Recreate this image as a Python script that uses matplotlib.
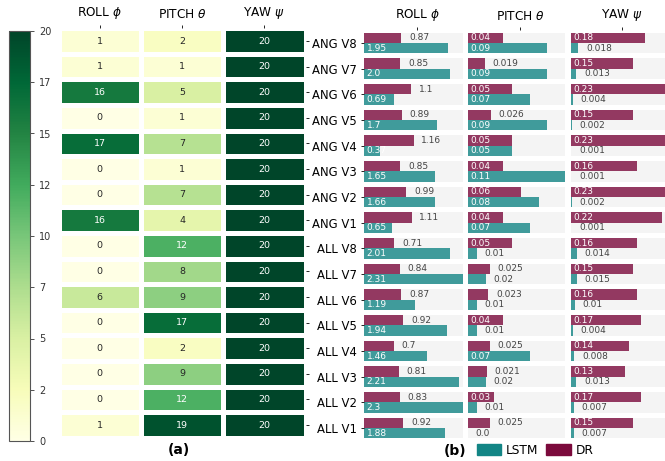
import matplotlib

matplotlib.use("Agg")
import matplotlib.pyplot as plt
import numpy as np
from matplotlib.patches import Patch

# rows, top to bottom
ROWS = ["ANG V8", "ANG V7", "ANG V6", "ANG V5", "ANG V4", "ANG V3", "ANG V2", "ANG V1",
        "ALL V8", "ALL V7", "ALL V6", "ALL V5", "ALL V4", "ALL V3", "ALL V2", "ALL V1"]
ANGLES = [r"ROLL $\phi$", r"PITCH $\theta$", r"YAW $\psi$"]

# (a) counts
ROLL_COUNT = [1, 1, 16, 0, 17, 0, 0, 16, 0, 0, 6, 0, 0, 0, 0, 1]
PITCH_COUNT = [2, 1, 5, 1, 7, 1, 7, 4, 12, 8, 9, 17, 2, 9, 12, 19]
YAW_COUNT = [20, 20, 20, 20, 20, 20, 20, 20, 20, 20, 20, 20, 20, 20, 20, 20]

# (b) errors
ROLL_DR = [0.87, 0.85, 1.1, 0.89, 1.16, 0.85, 0.99, 1.11, 0.71, 0.84, 0.87, 0.92, 0.7, 0.81, 0.83, 0.92]
ROLL_LSTM = [1.95, 2.0, 0.69, 1.7, 0.37, 1.65, 1.66, 0.65, 2.01, 2.31, 1.19, 1.94, 1.46, 2.21, 2.3, 1.88]
PITCH_DR = [0.04, 0.019, 0.05, 0.026, 0.05, 0.04, 0.06, 0.04, 0.05, 0.025, 0.023, 0.04, 0.025, 0.021, 0.03, 0.025]
PITCH_LSTM = [0.09, 0.09, 0.07, 0.09, 0.05, 0.11, 0.08, 0.07, 0.01, 0.02, 0.01, 0.01, 0.07, 0.02, 0.01, 0.0]
YAW_DR = [0.18, 0.15, 0.23, 0.15, 0.23, 0.16, 0.23, 0.22, 0.16, 0.15, 0.16, 0.17, 0.14, 0.13, 0.17, 0.15]
YAW_LSTM = [0.018, 0.013, 0.004, 0.002, 0.001, 0.001, 0.002, 0.001, 0.014, 0.015, 0.01, 0.004, 0.008, 0.013, 0.007, 0.007]

LSTM_C = "#138585"
DR_C = "#7b0a3c"
BAND = "#f4f4f4"
W, H = 665, 461


def box(x0, y0, x1, y1):
    # pixel box (y from top) -> figure fraction
    return [x0 / W, 1 - y1 / H, (x1 - x0) / W, (y1 - y0) / H]


def lum(rgb):
    c = np.array(rgb[:3])
    c = np.where(c <= 0.03928, c / 12.92, ((c + 0.055) / 1.055) ** 2.4)
    return 0.2126 * c[0] + 0.7152 * c[1] + 0.0722 * c[2]


fig = plt.figure(figsize=(W / 100, H / 100), dpi=100)

# ---- (a) heatmap
ax = fig.add_axes(box(58.5, 28.3, 305.5, 437.8))
counts = np.array([ROLL_COUNT, PITCH_COUNT, YAW_COUNT]).T
cmap = plt.get_cmap("YlGn")
mesh = ax.pcolormesh(counts, cmap=cmap, vmin=0, vmax=20, edgecolors="white", linewidth=2.5)
ax.set_xlim(0, 3)
ax.set_ylim(16, 0)
ax.xaxis.tick_top()
ax.set_xticks(np.arange(3) + 0.5)
ax.set_xticklabels(ANGLES, fontsize=8.7)
ax.yaxis.tick_right()
ax.set_yticks(np.arange(16) + 0.5)
ax.set_yticklabels([])
ax.tick_params(length=2.5, width=0.6, pad=3)
for s in ax.spines.values():
    s.set_visible(False)
for i in range(16):
    for j in range(3):
        v = counts[i, j]
        col = "#262626" if lum(cmap(v / 20)) > 0.408 else "white"
        ax.text(j + 0.5, i + 0.5, str(v), ha="center", va="center", fontsize=6.8, color=col)

cax = fig.add_axes(box(9, 31, 30, 441))
cb = fig.colorbar(mesh, cax=cax, ticks=np.linspace(0, 20, 9), format="%d")
cb.outline.set_linewidth(0.8)
cb.outline.set_edgecolor("#555555")
cax.tick_params(labelsize=7, length=3, width=0.6, colors="#333333")

# ---- (b) bars
panels = [
    (ROLL_DR, ROLL_LSTM, 364, 463, False),
    (PITCH_DR, PITCH_LSTM, 468, 565, True),
    (YAW_DR, YAW_LSTM, 571, 666, True),
]
y = np.arange(len(ROWS))
for k, (dr, lstm, x0, x1, dr_inside) in enumerate(panels):
    ax = fig.add_axes(box(x0, 30.2, x1, 440.8))
    xmax = max(max(dr), max(lstm))
    ax.barh(y, xmax, height=0.8, color=BAND, linewidth=0)
    ax.barh(y - 0.2, dr, height=0.4, color=DR_C, alpha=0.8, linewidth=0)
    ax.barh(y + 0.2, lstm, height=0.4, color=LSTM_C, alpha=0.8, linewidth=0)
    ax.set_xlim(0, xmax)
    ax.set_ylim(15.5, -0.5)
    for vals, yy, allow in ((dr, y - 0.2, dr_inside), (lstm, y + 0.2, True)):
        for v, yi in zip(vals, yy):
            if allow and v >= 0.03:
                ax.annotate(str(v), (0, yi), xytext=(1.8, 0), textcoords="offset points",
                            ha="left", va="center", fontsize=6.5, color="white")
            else:
                ax.annotate(str(v), (v, yi), xytext=(5.5, 0), textcoords="offset points",
                            ha="left", va="center", fontsize=6.5, color="#444444")
    ax.xaxis.tick_top()
    ax.set_xticks([xmax * 0.54])
    ax.set_xticklabels([ANGLES[k]], fontsize=8.7)
    if k == 0:
        ax.set_yticks(y)
        ax.set_yticklabels(ROWS, fontsize=8.4)
    else:
        ax.set_yticks([])
    ax.tick_params(length=2.5, width=0.6, pad=2.5)
    for s in ax.spines.values():
        s.set_visible(False)

fig.text(179 / W, 1 - 450 / H, "(a)", ha="center", va="center", fontsize=10, fontweight="bold")
fig.text(455 / W, 1 - 451 / H, "(b)", ha="center", va="center", fontsize=10, fontweight="bold")
fig.legend(handles=[Patch(color=LSTM_C, label="LSTM"), Patch(color=DR_C, label="DR")],
           loc="center", bbox_to_anchor=(535 / W, 1 - 450 / H), ncol=2, frameon=False,
           fontsize=8.7, handlelength=2, handleheight=1.1, handletextpad=0.4, columnspacing=0.7)

fig.savefig("out.png", dpi=100)
